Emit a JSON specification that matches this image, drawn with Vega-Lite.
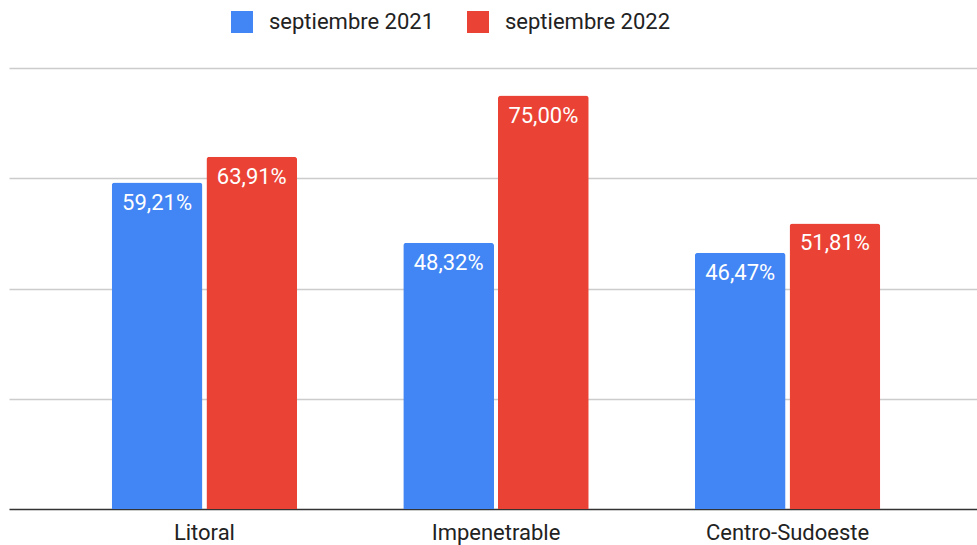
{
  "$schema": "https://vega.github.io/schema/vega-lite/v6.json",
  "width": 968,
  "height": 441,
  "autosize": {"type": "none"},
  "padding": {"left": 9, "top": 68, "right": 0, "bottom": 36},
  "background": "#ffffff",
  "config": {
    "view": {"stroke": null},
    "font": "Roboto",
    "locale": {"number": {"decimal": ",", "thousands": ".", "grouping": [3], "currency": ["", " €"]}}
  },
  "data": {
    "values": [
      {"region": "Litoral", "periodo": "septiembre 2021", "valor": 0.5921},
      {"region": "Litoral", "periodo": "septiembre 2022", "valor": 0.6391},
      {"region": "Impenetrable", "periodo": "septiembre 2021", "valor": 0.4832},
      {"region": "Impenetrable", "periodo": "septiembre 2022", "valor": 0.75},
      {"region": "Centro-Sudoeste", "periodo": "septiembre 2021", "valor": 0.4647},
      {"region": "Centro-Sudoeste", "periodo": "septiembre 2022", "valor": 0.5181}
    ]
  },
  "encoding": {
    "x": {
      "field": "region", "type": "nominal", "sort": null, "title": null,
      "scale": {"paddingInner": 0.364, "paddingOuter": 0.342, "align": 0.515},
      "axis": {
        "labelAngle": 0, "labelFontSize": 22, "labelColor": "#222222", "labelFont": "Roboto",
        "ticks": false, "labelBaseline": "alphabetic", "labelPadding": 30,
        "domainColor": "#333333", "domainWidth": 1.5, "grid": false
      }
    },
    "xOffset": {
      "field": "periodo", "type": "nominal",
      "scale": {"paddingInner": 0.042, "paddingOuter": 0}
    },
    "y": {
      "field": "valor", "type": "quantitative", "title": null,
      "scale": {"domain": [0, 0.8], "nice": false},
      "axis": {
        "values": [0.2, 0.4, 0.6, 0.8], "labels": false, "ticks": false, "domain": false,
        "grid": true, "gridColor": "#cccccc", "gridWidth": 1.3
      }
    }
  },
  "layer": [
    {
      "mark": {"type": "bar", "cornerRadiusTopLeft": 3, "cornerRadiusTopRight": 3},
      "encoding": {
        "color": {
          "field": "periodo", "type": "nominal", "title": null,
          "scale": {"domain": ["septiembre 2021", "septiembre 2022"], "range": ["#4285F4", "#EA4335"]},
          "legend": {
            "orient": "none", "direction": "horizontal", "legendX": 222, "legendY": -57,
            "symbolType": "square", "symbolSize": 484, "symbolStrokeWidth": 0, "symbolOpacity": 1,
            "labelFontSize": 22, "labelColor": "#222222", "labelFont": "Roboto", "labelLimit": 400,
            "labelOffset": 16, "columnPadding": 32
          }
        }
      }
    },
    {
      "mark": {"type": "text", "color": "#ffffff", "fontSize": 22, "font": "Roboto", "baseline": "alphabetic", "dy": 27},
      "encoding": {
        "text": {"field": "valor", "type": "quantitative", "format": ".2%"}
      }
    }
  ]
}
